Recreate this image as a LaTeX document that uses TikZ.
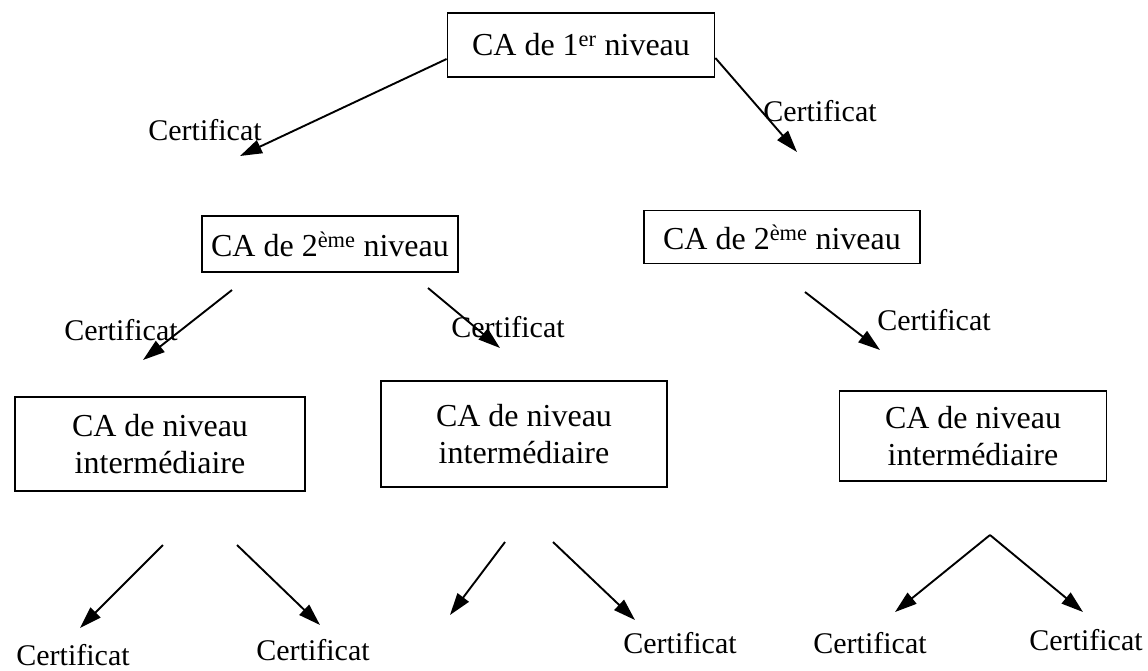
\documentclass[tikz,border=0pt]{standalone}
\usepackage{fontspec}
\setmainfont{Liberation Serif}
\usetikzlibrary{arrows.meta}

\tikzset{
  ca/.style={draw,line width=1.8pt,align=center,inner sep=0pt,
    font=\fontsize{32}{37}\selectfont},
  cert/.style={inner sep=0pt,font=\fontsize{30}{32}\selectfont},
  fl/.style={line width=1.9pt,-{Triangle[length=22pt,width=14pt]}}
}

\begin{document}
\begin{tikzpicture}[x=1pt,y=-1pt]
    \useasboundingbox (0,0) rectangle (1148,670);

    \node[ca,minimum width=267pt,minimum height=64pt] (n1) at (581,45) {CA de 1\textsuperscript{er} niveau};

    \node[ca,minimum width=256pt,minimum height=56pt] (n2a) at (330,244) {CA de 2\textsuperscript{ème} niveau};
    \node[ca,minimum width=276pt,minimum height=53pt] (n2b) at (782,237) {CA de 2\textsuperscript{ème} niveau};

    \node[ca,minimum width=290pt,minimum height=94pt] (n3a) at (160,444) {CA de niveau\\intermédiaire};
    \node[ca,minimum width=286pt,minimum height=106pt] (n3b) at (524,434) {CA de niveau\\intermédiaire};
    \node[ca,minimum width=267pt,minimum height=90pt] (n3c) at (973,436) {CA de niveau\\intermédiaire};

    \node[cert] (c1) at (205,130) {Certificat};
    \node[cert] (c2) at (820,111) {Certificat};
    \node[cert] (c3) at (121,330) {Certificat};
    \node[cert] (c4) at (508,327) {Certificat};
    \node[cert] (c5) at (934,320) {Certificat};
    \node[cert] (c6) at (73,655) {Certificat};
    \node[cert] (c7) at (313,650) {Certificat};
    \node[cert] (c8) at (680,643) {Certificat};
    \node[cert] (c9) at (870,643) {Certificat};
    \node[cert] (c10) at (1086,640) {Certificat};

    \coordinate (h1) at (240,156);
    \coordinate (h2) at (797,152);
    \coordinate (t3) at (232,290);
    \coordinate (h3) at (143,360);
    \coordinate (t4) at (428,288);
    \coordinate (h4) at (500,348);
    \coordinate (t5) at (805,292);
    \coordinate (h5) at (880,350);
    \coordinate (t6) at (163,545);
    \coordinate (h6) at (80,628);
    \coordinate (t7) at (237,545);
    \coordinate (h7) at (320,625);
    \coordinate (t8) at (505,542);
    \coordinate (h8) at (450,615);
    \coordinate (t9) at (553,542);
    \coordinate (h9) at (635,620);
    \coordinate (t10) at (990,535);
    \coordinate (h10) at (895,612);
    \coordinate (h11) at (1083,612);

    \draw[fl] (n1.west) ++(0,14) -- (h1);
    \draw[fl] (n1.east) ++(0,13) -- (h2);
    \foreach \a/\b in {t3/h3,t4/h4,t5/h5,t6/h6,t7/h7,t8/h8,t9/h9,t10/h10,t10/h11} {
        \draw[fl] (\a) -- (\b);
    }
\end{tikzpicture}
\end{document}
